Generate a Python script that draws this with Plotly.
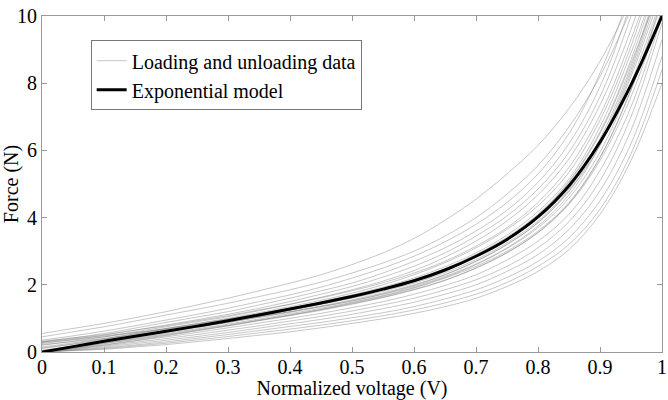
import plotly.graph_objects as go

# x grid at which curves were read
x_grid = [0, 0.05, 0.1, 0.15, 0.2, 0.25, 0.3, 0.35, 0.4, 0.45, 0.5,
          0.55, 0.6, 0.65, 0.7, 0.75, 0.8, 0.85, 0.9, 0.95, 1.0]

# exponential model
model_y = [0, 0.16, 0.32, 0.47, 0.62, 0.77, 0.93, 1.1, 1.28, 1.46, 1.65,
           1.87, 2.12, 2.44, 2.85, 3.35, 4.02, 4.95, 6.25, 7.95, 10.0]

# loading / unloading data curves (read approximately)
curve_u1 = [0.55, 0.7, 0.85, 1.02, 1.2, 1.4, 1.6, 1.82, 2.05, 2.3, 2.6, 2.95, 3.38, 3.92, 4.55, 5.3, 6.15, 7.25, 8.65, 10.5, 13]
curve_u2 = [0.45, 0.6, 0.75, 0.92, 1.1, 1.27, 1.45, 1.65, 1.85, 2.08, 2.35, 2.65, 3.0, 3.45, 4.0, 4.7, 5.55, 6.7, 8.2, 10.2, 12.5]
curve_u3 = [0.35, 0.48, 0.62, 0.78, 0.95, 1.12, 1.3, 1.5, 1.7, 1.93, 2.2, 2.5, 2.85, 3.28, 3.8, 4.45, 5.3, 6.5, 8.3, 10.8, 14]
curve_u4 = [0.3, 0.42, 0.55, 0.71, 0.88, 1.04, 1.2, 1.4, 1.6, 1.82, 2.05, 2.35, 2.7, 3.1, 3.6, 4.22, 5.05, 6.2, 7.9, 10.4, 13.5]
curve_u5 = [0.25, 0.37, 0.5, 0.65, 0.8, 0.96, 1.12, 1.3, 1.5, 1.72, 1.95, 2.23, 2.55, 2.95, 3.45, 4.05, 4.85, 5.95, 7.6, 10, 13]
curve_u6 = [0.2, 0.32, 0.45, 0.6, 0.75, 0.9, 1.05, 1.23, 1.42, 1.63, 1.85, 2.11, 2.42, 2.82, 3.3, 3.9, 4.68, 5.75, 7.35, 9.6, 12.5]
curve_u7 = [0.32, 0.42, 0.52, 0.65, 0.78, 0.93, 1.08, 1.25, 1.42, 1.61, 1.82, 2.06, 2.35, 2.7, 3.15, 3.7, 4.45, 5.5, 7.05, 9.3, 12]
curve_u8 = [0.1, 0.24, 0.38, 0.54, 0.7, 0.85, 1.0, 1.17, 1.35, 1.54, 1.75, 2.0, 2.3, 2.66, 3.1, 3.65, 4.35, 5.35, 6.9, 9.1, 12]
curve_u9 = [0.15, 0.27, 0.4, 0.54, 0.68, 0.83, 0.98, 1.14, 1.3, 1.49, 1.7, 1.93, 2.2, 2.54, 2.95, 3.48, 4.18, 5.15, 6.7, 8.9, 11.5]
curve_u10 = [0.05, 0.17, 0.3, 0.45, 0.6, 0.75, 0.9, 1.07, 1.25, 1.43, 1.62, 1.84, 2.1, 2.43, 2.85, 3.38, 4.08, 5.05, 6.5, 8.6, 11]
curve_m1 = [0.28, 0.36, 0.45, 0.57, 0.7, 0.84, 0.98, 1.14, 1.3, 1.48, 1.68, 1.9, 2.15, 2.48, 2.9, 3.42, 4.1, 5.08, 6.55, 8.7, 11.5]
curve_m2 = [0, 0.15, 0.3, 0.44, 0.58, 0.73, 0.88, 1.04, 1.2, 1.37, 1.55, 1.76, 2.0, 2.3, 2.7, 3.2, 3.85, 4.78, 6.15, 8.2, 10.8]
curve_m3 = [0, 0.14, 0.28, 0.41, 0.55, 0.69, 0.83, 0.98, 1.14, 1.3, 1.48, 1.68, 1.92, 2.22, 2.6, 3.08, 3.7, 4.58, 5.95, 8.0, 10.6]
curve_m4 = [0.22, 0.31, 0.4, 0.51, 0.62, 0.75, 0.88, 1.03, 1.18, 1.35, 1.52, 1.73, 1.98, 2.3, 2.7, 3.2, 3.85, 4.8, 6.25, 8.4, 11.2]
curve_m5 = [0.3, 0.39, 0.48, 0.58, 0.68, 0.8, 0.92, 1.06, 1.2, 1.35, 1.52, 1.72, 1.95, 2.25, 2.62, 3.1, 3.75, 4.68, 6.15, 8.3, 11]
curve_m6 = [0, 0.1, 0.2, 0.34, 0.48, 0.63, 0.78, 0.94, 1.1, 1.27, 1.46, 1.66, 1.9, 2.2, 2.55, 3.0, 3.6, 4.45, 5.8, 7.8, 10.4]
curve_m7 = [0.12, 0.23, 0.35, 0.48, 0.62, 0.77, 0.92, 1.08, 1.25, 1.42, 1.6, 1.81, 2.05, 2.36, 2.75, 3.25, 3.9, 4.85, 6.35, 8.5, 11.3]
curve_m8 = [0, 0.13, 0.26, 0.39, 0.52, 0.66, 0.8, 0.95, 1.1, 1.26, 1.44, 1.63, 1.86, 2.14, 2.5, 2.96, 3.56, 4.42, 5.78, 7.8, 10.5]
curve_l1 = [0, 0.12, 0.25, 0.37, 0.5, 0.64, 0.78, 0.93, 1.08, 1.24, 1.42, 1.62, 1.85, 2.13, 2.5, 2.95, 3.55, 4.4, 5.7, 7.6, 10.2]
curve_l2 = [0, 0.11, 0.22, 0.33, 0.45, 0.58, 0.72, 0.86, 1.0, 1.15, 1.32, 1.5, 1.72, 1.98, 2.3, 2.74, 3.3, 4.1, 5.4, 7.3, 10]
curve_l3 = [0, 0.09, 0.18, 0.29, 0.4, 0.52, 0.65, 0.78, 0.92, 1.06, 1.22, 1.4, 1.6, 1.85, 2.15, 2.55, 3.1, 3.88, 5.1, 7.0, 9.8]
curve_l4 = [0, 0.07, 0.15, 0.25, 0.35, 0.46, 0.58, 0.71, 0.84, 0.97, 1.12, 1.29, 1.48, 1.72, 2.0, 2.4, 2.9, 3.65, 4.8, 6.6, 9.3]
curve_l5 = [0, 0.06, 0.12, 0.21, 0.3, 0.41, 0.52, 0.64, 0.76, 0.88, 1.02, 1.17, 1.35, 1.58, 1.85, 2.22, 2.7, 3.4, 4.5, 6.2, 8.8]
curve_l6 = [0, 0.05, 0.1, 0.18, 0.26, 0.36, 0.46, 0.57, 0.68, 0.8, 0.93, 1.08, 1.25, 1.46, 1.72, 2.07, 2.55, 3.2, 4.25, 5.9, 8.4]
curve_l7 = [0, 0.04, 0.08, 0.15, 0.22, 0.31, 0.4, 0.5, 0.6, 0.72, 0.85, 0.99, 1.15, 1.35, 1.6, 1.95, 2.4, 3.05, 4.1, 5.7, 8.0]

data_curves = [curve_u1, curve_u2, curve_u3, curve_u4, curve_u5, curve_u6, curve_u7,
               curve_u8, curve_u9, curve_u10, curve_m1, curve_m2, curve_m3, curve_m4,
               curve_m5, curve_m6, curve_m7, curve_m8, curve_l1, curve_l2, curve_l3,
               curve_l4, curve_l5, curve_l6, curve_l7]

x_ticks = [0, 0.1, 0.2, 0.3, 0.4, 0.5, 0.6, 0.7, 0.8, 0.9, 1]
x_tick_labels = ["0", "0.1", "0.2", "0.3", "0.4", "0.5", "0.6", "0.7", "0.8", "0.9", "1"]
y_ticks = [0, 2, 4, 6, 8, 10]

FONT = "'Liberation Serif', 'Times New Roman', Times, serif"
FS = 20

fig = go.Figure()
for i, cy in enumerate(data_curves):
    fig.add_trace(go.Scatter(
        x=x_grid, y=cy, mode="lines",
        line=dict(color="rgba(120,120,120,0.6)", width=0.7, shape="spline", smoothing=1.0),
        name="Loading and unloading data", legendgroup="data",
        showlegend=(i == 0),
    ))

fig.add_trace(go.Scatter(
    x=x_grid, y=model_y, mode="lines",
    line=dict(color="black", width=3, shape="spline", smoothing=1.0),
    name="Exponential model",
))

axis_common = dict(
    showgrid=False, zeroline=False, showline=True, linecolor="#999999", linewidth=1,
    mirror="ticks", ticks="inside", ticklen=5, tickcolor="#999999",
    tickfont=dict(family=FONT, size=FS, color="black"),
    automargin=False, ticklabeloverflow="allow",
)

fig.update_layout(
    width=668, height=400,
    margin=dict(l=42, r=6, t=16, b=48, autoexpand=False),
    paper_bgcolor="white", plot_bgcolor="white",
    font=dict(family=FONT, size=FS, color="black"),
    xaxis=dict(range=[0, 1], tickvals=x_ticks, ticktext=x_tick_labels,
               ticklabelstandoff=-3,
               title=dict(text="Normalized voltage (V)", font=dict(family=FONT, size=FS), standoff=0),
               **axis_common),
    yaxis=dict(range=[0, 10], tickvals=y_ticks,
               title=dict(text="Force (N)", font=dict(family=FONT, size=FS), standoff=0),
               **axis_common),
    legend=dict(x=0.0785, y=0.928, xanchor="left", yanchor="top",
                bordercolor="#777777", borderwidth=1, bgcolor="white",
                font=dict(family=FONT, size=FS), tracegroupgap=0,
                itemwidth=30),
    showlegend=True,
)

fig.write_html("out.html", config={"displayModeBar": False},
               post_script="document.body.style.margin='0px';")
